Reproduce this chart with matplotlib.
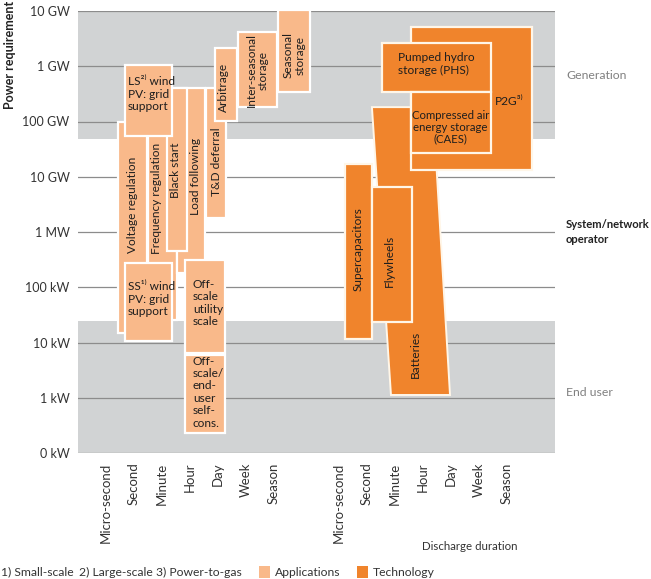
import matplotlib
matplotlib.use('Agg')
import matplotlib.pyplot as plt
from matplotlib.patches import Rectangle, Polygon

plt.rcParams['font.family'] = ['Lato', 'DejaVu Sans']

# duration axis (category units) and power axis (decade index)
durations = ['Micro-second', 'Second', 'Minute', 'Hour', 'Day', 'Week', 'Season']
app_ticks = [0, 1, 2, 3, 4, 5, 6]
tech_ticks = [8.3, 9.3, 10.3, 11.3, 12.3, 13.3, 14.3]
power_labels = ['0 kW', '1 kW', '10 kW', '100 kW', '1 MW', '10 GW', '100 GW', '1 GW', '10 GW']

# applications: x from/to (duration units), power low/high (decade units)
app_names = ['Voltage regulation', 'Frequency regulation', 'Load following', 'Black start',
             'T&D deferral', 'LS wind', 'Arbitrage', 'Inter-seasonal storage',
             'Seasonal storage', 'SS wind', 'Off-scale utility', 'Off-scale end-user']
app_x0 = [0.43, 1.50, 2.54, 2.18, 3.57, 0.68, 3.89, 4.71, 6.14, 0.68, 2.82, 2.82]
app_x1 = [1.46, 2.54, 3.54, 2.89, 4.29, 2.36, 4.68, 6.11, 7.29, 2.36, 4.25, 4.25]
app_lo = [2.17, 2.41, 3.26, 3.66, 4.25, 5.74, 6.01, 6.26, 6.53, 2.03, 1.81, 0.36]
app_hi = [5.99, 5.94, 6.61, 6.61, 6.61, 7.02, 7.33, 7.62, 8.02, 3.44, 3.49, 1.77]

# technologies
tech_names = ['P2G', 'PHS', 'CAES', 'Supercapacitors', 'Flywheels']
tech_x0 = [10.89, 9.86, 10.89, 8.54, 9.50]
tech_x1 = [15.21, 13.75, 13.75, 9.50, 10.93]
tech_lo = [5.12, 6.53, 5.43, 2.06, 2.37]
tech_hi = [7.71, 7.42, 6.53, 5.23, 4.81]
# batteries span is slanted: top edge and bottom edge
batt_top_x = [9.50, 11.68]
batt_bot_x = [10.18, 12.29]
batt_lo, batt_hi = 1.05, 6.26

# shaded bands (decade units)
bands = [(5.68, 8.0), (0.0, 2.39)]

app_col = '#F9B98A'
tech_col = '#F0842C'
band_col = '#D1D3D4'
txt_col = '#1e1e1e'

fig = plt.figure(figsize=(6.51, 5.79), dpi=100)
ax = fig.add_axes([78/651, 1-453/579, (555-78)/651, (453-11)/579])
ax.set_xlim(-1, 16.04)
ax.set_ylim(0, 8)

for lo, hi in bands:
    ax.axhspan(lo, hi, color=band_col, lw=0, zorder=0)
for i in range(len(power_labels)):
    ax.axhline(i, color='#8c8c8c', lw=0.9, zorder=1)

for x0, x1, lo, hi in zip(app_x0, app_x1, app_lo, app_hi):
    ax.add_patch(Rectangle((x0, lo), x1 - x0, hi - lo, fc=app_col, ec='white',
                           lw=1.6, zorder=2, clip_on=False))

ax.add_patch(Polygon([(batt_top_x[0], batt_hi), (batt_top_x[1], batt_hi),
                      (batt_bot_x[1], batt_lo), (batt_bot_x[0], batt_lo)],
                     closed=True, fc=tech_col, ec='#FFF6E8', lw=1.4, zorder=2))
for x0, x1, lo, hi in zip(tech_x0, tech_x1, tech_lo, tech_hi):
    ax.add_patch(Rectangle((x0, lo), x1 - x0, hi - lo, fc=tech_col, ec='#FFF6E8',
                           lw=1.6, zorder=2, clip_on=False))

fs = 8.6
# vertical labels
vlabels = [
    ('Voltage regulation', 0.93, 4.49), ('Frequency regulation', 1.82, 4.60),
    ('Black start', 2.50, 5.12), ('Load following', 3.21, 5.00),
    ('T&D deferral', 3.93, 5.27), ('Arbitrage', 4.21, 6.61),
    ('Inter-seasonal\nstorage', 5.39, 6.93), ('Seasonal\nstorage', 6.71, 7.20),
    ('Supercapacitors', 9.00, 3.69), ('Flywheels', 10.14, 3.48), ('Batteries', 11.04, 1.79),
]
for s, x, y in vlabels:
    ax.text(x, y, s, rotation=90, ha='center', va='center', fontsize=fs,
            color=txt_col, zorder=5, linespacing=1.1)

hlabels = [
    ('LS\u00b2\u207e wind\nPV: grid\nsupport', 0.79, 6.82),
    ('SS\u00b9\u207e wind\nPV: grid\nsupport', 0.79, 3.11),
    ('Off-\nscale\nutility\nscale', 3.10, 3.15),
    ('Off-\nscale/\nend-\nuser\nself-\ncons.', 3.10, 1.76),
]
for s, x, y in hlabels:
    ax.text(x, y, s, ha='left', va='top', fontsize=fs, color=txt_col, zorder=5,
            linespacing=1.15)

ax.text(10.43, 7.04, 'Pumped hydro\nstorage (PHS)', ha='left', va='center',
        fontsize=fs, color=txt_col, zorder=5)
ax.text(12.3, 5.90, 'Compressed air\nenergy storage\n(CAES)', ha='center', va='center',
        fontsize=8.2, color=txt_col, zorder=5, linespacing=1.1)
ax.text(14.39, 6.37, 'P2G\u00b3\u207e', ha='center', va='center', fontsize=fs,
        color=txt_col, zorder=5)

# level labels on the right
ax.text(16.43, 6.84, 'Generation', ha='left', va='center', fontsize=8.8, color='#808080')
ax.text(16.43, 4.0, 'System/network\noperator', ha='left', va='center', fontsize=8.1,
        color='#222222', fontweight='bold', linespacing=1.45)
ax.text(16.43, 1.10, 'End user', ha='left', va='center', fontsize=8.8, color='#808080')

ax.set_yticks(range(len(power_labels)))
ax.set_yticklabels(power_labels, fontsize=9, color='#333333')
ax.set_xticks(app_ticks + tech_ticks)
ax.set_xticklabels(durations + durations, rotation=90, fontsize=9.5, color='#333333', va='top')
ax.tick_params(axis='both', length=0)
ax.tick_params(axis='x', pad=7)
ax.tick_params(axis='y', pad=6)
for sp in ax.spines.values():
    sp.set_visible(False)

fig.text(10/651, 0.998, 'Power requirement', rotation=90, ha='center', va='top',
         fontsize=9, color='#222222', fontweight='bold')
fig.text(470/651, 1-547/579, 'Discharge duration', ha='center', va='center',
         fontsize=8.3, color='#333333')

# footnotes and key
ly = 1 - 572/579
fkw = dict(va='center', fontsize=8.7, color='#333333')
fig.text(1/651, ly, '1) Small-scale', **fkw)
fig.text(79/651, ly, '2) Large-scale', **fkw)
fig.text(156/651, ly, '3) Power-to-gas', **fkw)
fig.patches.append(Rectangle((259/651, ly - 6/579), 11/651, 12/579, fc=app_col, lw=0,
                             transform=fig.transFigure))
fig.text(275/651, ly, 'Applications', **fkw)
fig.patches.append(Rectangle((357/651, ly - 6/579), 11/651, 12/579, fc=tech_col, lw=0,
                             transform=fig.transFigure))
fig.text(373/651, ly, 'Technology', **fkw)

fig.savefig('out.png', dpi=100)
